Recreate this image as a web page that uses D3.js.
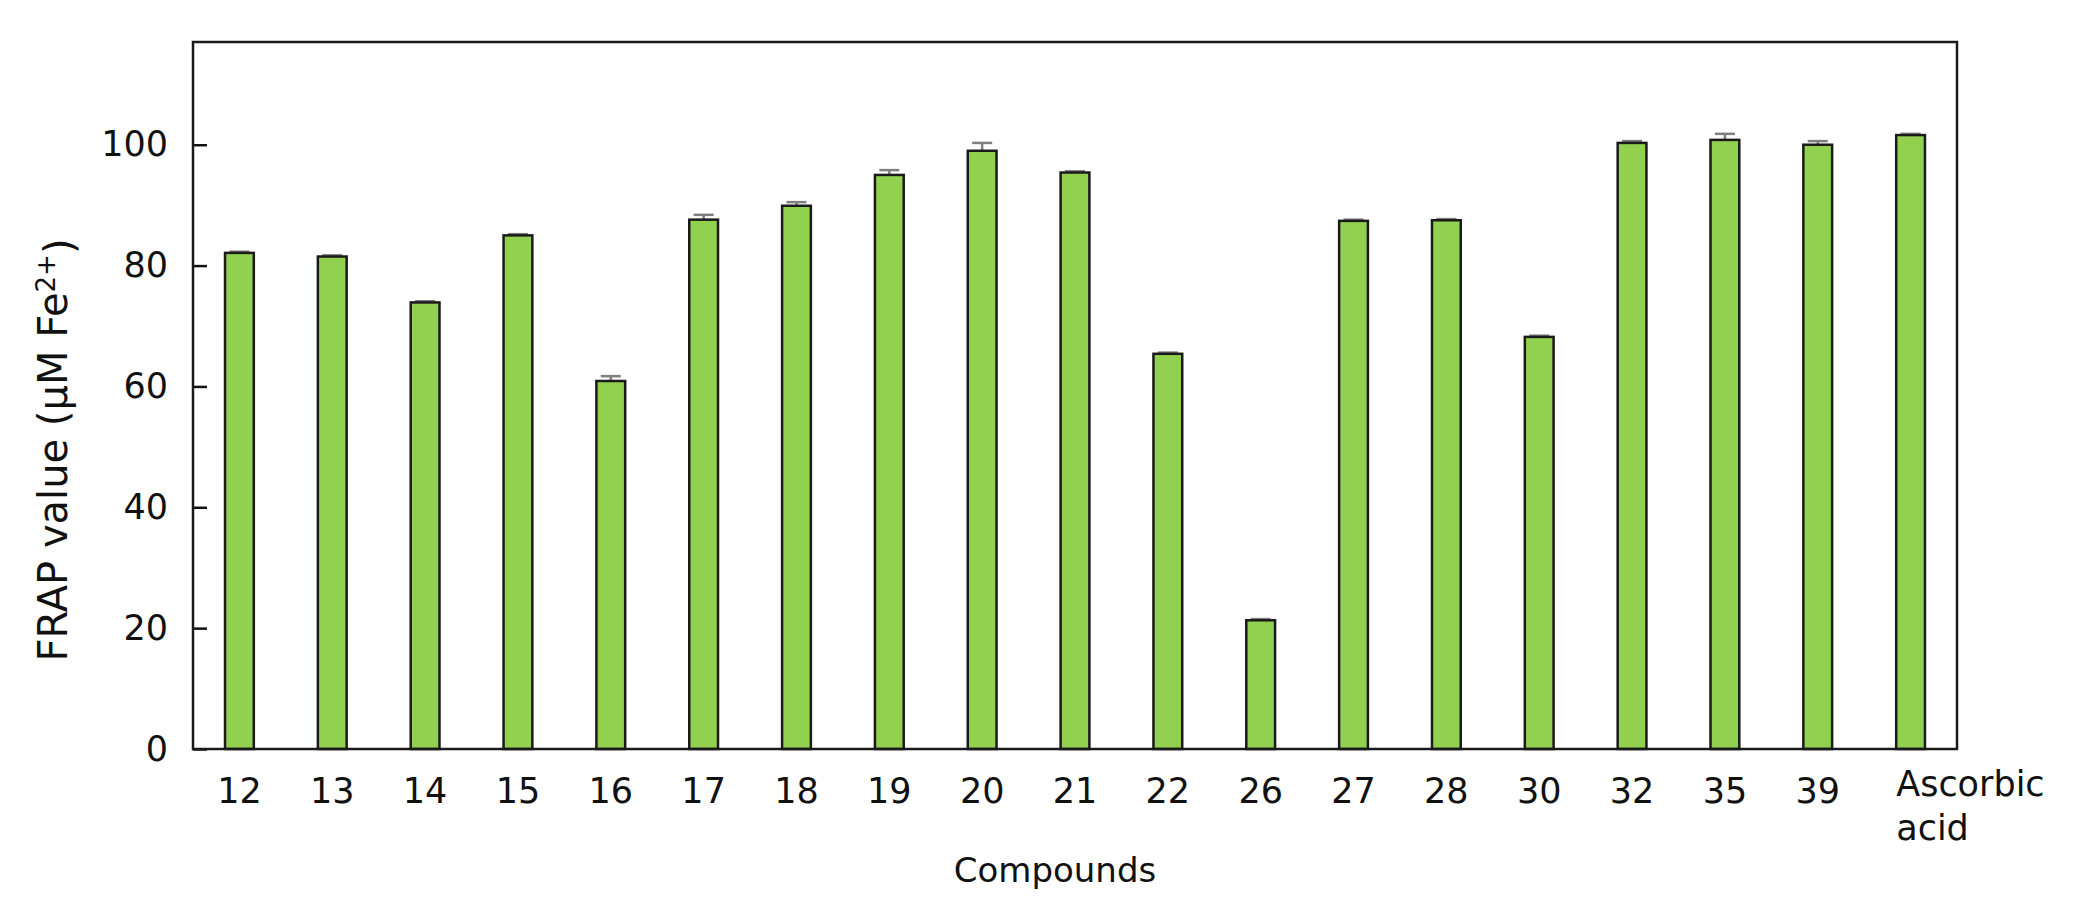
<!DOCTYPE html>
<html>
<head>
<meta charset="utf-8">
<script src="https://cdn.jsdelivr.net/npm/d3@7"></script>
<style>
  body { margin: 0; background: #fff; }
  text { font-family: "DejaVu Sans", Verdana, sans-serif; fill: #111; }
</style>
</head>
<body>
<script>
// data
var compounds = ["12", "13", "14", "15", "16", "17", "18", "19", "20", "21", "22", "26", "27", "28", "30", "32", "35", "39", "Ascorbic acid"];
var frapValues = [82.1, 81.5, 73.9, 85.0, 60.9, 87.6, 89.9, 95.0, 99.0, 95.4, 65.4, 21.3, 87.4, 87.5, 68.2, 100.3, 100.8, 100.0, 101.6];
var frapErrors = [0.2, 0.2, 0.2, 0.2, 0.8, 0.8, 0.6, 0.8, 1.3, 0.2, 0.2, 0.2, 0.2, 0.2, 0.2, 0.3, 1.0, 0.6, 0.2];
var yTicks = [0, 20, 40, 60, 80, 100];

var W = 2078, H = 913;
var plotLeft = 193, plotRight = 1957, plotTop = 42, plotBottom = 749;

var svg = d3.select("body").append("svg")
  .attr("width", W)
  .attr("height", H);

var x = d3.scaleBand().domain(compounds).range([plotLeft, plotRight]).paddingInner(0.69).paddingOuter(0.345);
var y = d3.scaleLinear().domain([0, 117]).range([plotBottom, plotTop]);

var data = compounds.map(function (c, i) {
  return { name: c, value: frapValues[i], err: frapErrors[i] };
});

// y axis (ticks pointing inward)
var yAxis = svg.append("g")
  .attr("transform", "translate(" + plotLeft + ",0)")
  .call(d3.axisLeft(y).tickValues(yTicks).tickSizeInner(-14).tickSizeOuter(0).tickPadding(25));
yAxis.select(".domain").remove();
yAxis.selectAll("line").attr("stroke", "#111").attr("stroke-width", 2.5);
yAxis.selectAll("text").style("font-size", "35px").style("font-family", "DejaVu Sans, Verdana, sans-serif").attr("fill", "#111");

// x axis
var xAxis = svg.append("g")
  .attr("transform", "translate(0," + plotBottom + ")")
  .call(d3.axisBottom(x).tickSize(0).tickPadding(29));
xAxis.select(".domain").remove();
xAxis.selectAll("text").style("font-size", "35px").style("font-family", "DejaVu Sans, Verdana, sans-serif").attr("fill", "#111");

// two-line label for the last category
xAxis.selectAll(".tick text")
  .filter(function (d) { return d === "Ascorbic acid"; })
  .each(function () {
    var t = d3.select(this);
    t.text(null)
      .attr("text-anchor", "start")
      .attr("x", -x.bandwidth() / 2)
      .attr("y", 22);
    t.append("tspan").attr("x", -x.bandwidth() / 2).attr("dy", "0.71em").text("Ascorbic");
    t.append("tspan").attr("x", -x.bandwidth() / 2).attr("dy", "1.26em").text("acid");
  });

// error bars (upper half only visible)
var eb = svg.append("g").attr("stroke", "#7f7f7f").attr("stroke-width", 2.5);
data.forEach(function (d) {
  var cx = x(d.name) + x.bandwidth() / 2;
  eb.append("line")
    .attr("x1", cx).attr("x2", cx)
    .attr("y1", y(d.value)).attr("y2", y(d.value + d.err));
  eb.append("line")
    .attr("x1", cx - 10).attr("x2", cx + 10)
    .attr("y1", y(d.value + d.err)).attr("y2", y(d.value + d.err));
});

// bars
svg.append("g")
  .selectAll("rect")
  .data(data)
  .enter()
  .append("rect")
  .attr("x", function (d) { return x(d.name); })
  .attr("y", function (d) { return y(d.value); })
  .attr("width", x.bandwidth())
  .attr("height", function (d) { return y(0) - y(d.value); })
  .attr("fill", "#92d050")
  .attr("stroke", "#1a1a1a")
  .attr("stroke-width", 2.5);

// frame
svg.append("rect")
  .attr("x", plotLeft).attr("y", plotTop)
  .attr("width", plotRight - plotLeft).attr("height", plotBottom - plotTop)
  .attr("fill", "none")
  .attr("stroke", "#1a1a1a")
  .attr("stroke-width", 2.5);

// axis titles
svg.append("text")
  .attr("x", 1055)
  .attr("y", 882)
  .attr("text-anchor", "middle")
  .style("font-size", "34px")
  .text("Compounds");

var yl = svg.append("text")
  .attr("transform", "translate(67,450) rotate(-90)")
  .attr("text-anchor", "middle")
  .style("font-size", "40px");
yl.append("tspan").text("FRAP value (µM Fe");
yl.append("tspan").attr("dy", "-0.45em").style("font-size", "26px").text("2+");
yl.append("tspan").attr("dy", "0.45em").text(")");
</script>
</body>
</html>
